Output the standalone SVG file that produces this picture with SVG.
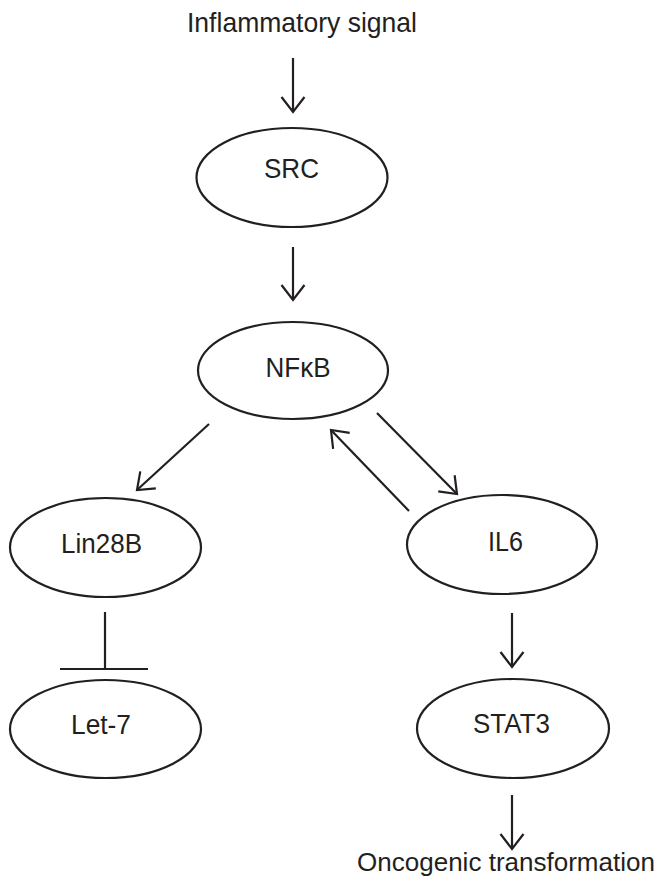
<svg xmlns="http://www.w3.org/2000/svg" width="660" height="882" viewBox="0 0 660 882">
<style>
.node ellipse{fill:#fff;stroke:#231f20;stroke-width:2.2}
text{font-family:"Liberation Sans",Arial,sans-serif;font-size:27.5px;fill:#231f20;text-anchor:middle}
.conn line{stroke:#231f20;stroke-width:2.2;fill:none}
.arr{marker-end:url(#ah)}
</style>
<defs>
<marker id="ah" markerUnits="userSpaceOnUse" markerWidth="40" markerHeight="40" viewBox="-20 -20 40 40" refX="0" refY="0" orient="auto">
<path d="M-15,-11.5 L0,0 L-15,11.5" fill="none" stroke="#231f20" stroke-width="2.2" stroke-linejoin="miter"/>
</marker>
</defs>
<rect width="660" height="882" fill="#fff"/>
<text id="input" x="302" y="32" textLength="230" lengthAdjust="spacingAndGlyphs">Inflammatory signal</text>
<g id="n-src" class="node"><ellipse cx="292" cy="177.5" rx="95.5" ry="49.5"/><text x="291.5" y="178" textLength="55" lengthAdjust="spacingAndGlyphs">SRC</text></g>
<g id="n-nfkb" class="node"><ellipse cx="293" cy="370.5" rx="95" ry="48.5"/><text x="298" y="377" textLength="65" lengthAdjust="spacingAndGlyphs">NFκB</text></g>
<g id="n-lin28b" class="node"><ellipse cx="105.5" cy="547.5" rx="95.5" ry="49.5"/><text x="101.5" y="553" textLength="81" lengthAdjust="spacingAndGlyphs">Lin28B</text></g>
<g id="n-il6" class="node"><ellipse cx="502" cy="544.5" rx="95" ry="49.5"/><text x="505.5" y="551" textLength="35" lengthAdjust="spacingAndGlyphs">IL6</text></g>
<g id="n-let7" class="node"><ellipse cx="105.5" cy="729" rx="95.5" ry="49"/><text x="101" y="734" textLength="60" lengthAdjust="spacingAndGlyphs">Let-7</text></g>
<g id="n-stat3" class="node"><ellipse cx="513" cy="728.5" rx="96" ry="49.5"/><text x="511.5" y="733" textLength="77" lengthAdjust="spacingAndGlyphs">STAT3</text></g>
<text id="output" x="506" y="871" style="font-size:26px" textLength="298" lengthAdjust="spacingAndGlyphs">Oncogenic transformation</text>
<g id="connectors" class="conn">
<line class="arr" x1="293" y1="58" x2="293" y2="112"/>
<line class="arr" x1="293" y1="247" x2="293" y2="300"/>
<line class="arr" x1="209" y1="424" x2="137" y2="490"/>
<line class="arr" x1="377" y1="413" x2="457" y2="494"/>
<line class="arr" x1="409" y1="511" x2="331" y2="430"/>
<line x1="105" y1="612" x2="105" y2="669"/>
<line x1="60" y1="669" x2="148" y2="669"/>
<line class="arr" x1="512" y1="613" x2="512" y2="667"/>
<line class="arr" x1="512" y1="795" x2="512" y2="849"/>
</g>
</svg>
